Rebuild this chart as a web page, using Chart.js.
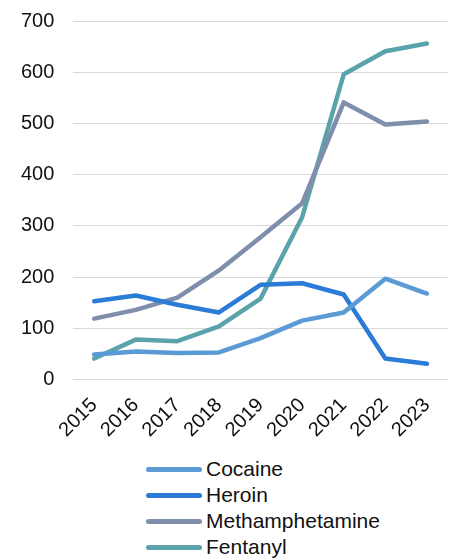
<!DOCTYPE html>
<html>
<head>
<meta charset="utf-8">
<script src="https://cdn.jsdelivr.net/npm/chart.js@4/dist/chart.umd.min.js"></script>
<style>
    html, body { margin: 0; padding: 0; background: #fff; overflow: hidden; }
    #wrap { position: relative; width: 458px; height: 466px; margin-top: -10px; }
    #legend { margin: 0 0 0 146px; font: 21px "Liberation Sans", Arial, sans-serif; color: #111; }
    .item { display: flex; align-items: center; height: 26px; }
    .swatch { width: 56px; height: 5px; border-radius: 3px; margin-right: 4px; }
</style>
</head>
<body>
<div id="wrap"><canvas id="chart"></canvas></div>
<div id="legend"></div>
<script>
const years = ["2015", "2016", "2017", "2018", "2019", "2020", "2021", "2022", "2023"];
const cocaine = [49, 55, 52, 53, 81, 115, 131, 197, 168];
const heroin = [153, 164, 146, 131, 185, 188, 166, 41, 31];
const meth = [119, 136, 160, 213, 278, 344, 541, 498, 504];
const fentanyl = [41, 78, 75, 104, 158, 317, 596, 641, 656];
const seriesNames = ["Cocaine", "Heroin", "Methamphetamine", "Fentanyl"];
const seriesColors = ["#5b9bd5", "#2b7cd6", "#7f8eab", "#5aa3ab"];

const values = [cocaine, heroin, meth, fentanyl];
const font = { family: "'Liberation Sans', Arial, sans-serif", size: 20 };

const chart = new Chart(document.getElementById("chart"), {
    type: "line",
    data: {
        labels: years,
        datasets: seriesNames.map((name, i) => ({
            label: name,
            data: values[i],
            borderColor: seriesColors[i],
            borderWidth: 4.5,
            borderCapStyle: "round",
            borderJoinStyle: "round",
            pointRadius: 0,
            tension: 0,
            fill: false
        }))
    },
    options: {
        responsive: true,
        maintainAspectRatio: false,
        animation: false,
        layout: { padding: { left: 2, right: 2, top: 0, bottom: 0 } },
        plugins: {
            legend: { display: false },
            tooltip: { enabled: false }
        },
        scales: {
            x: {
                offset: true,
                grid: { display: false, drawTicks: false },
                border: { display: false },
                ticks: { color: "#111", font, minRotation: 45, maxRotation: 45, padding: 14 }
            },
            y: {
                min: 0,
                max: 700,
                grid: { color: "#d9d9d9", lineWidth: 1, drawTicks: false },
                border: { display: false },
                ticks: { stepSize: 100, color: "#111", font, padding: 19 }
            }
        }
    }
});

// vertical legend under the chart, like the original
const legend = document.getElementById("legend");
chart.data.datasets.forEach(ds => {
    const row = document.createElement("div");
    row.className = "item";
    const sw = document.createElement("span");
    sw.className = "swatch";
    sw.style.background = ds.borderColor;
    const label = document.createElement("span");
    label.textContent = ds.label;
    row.appendChild(sw);
    row.appendChild(label);
    legend.appendChild(row);
});
</script>
</body>
</html>
